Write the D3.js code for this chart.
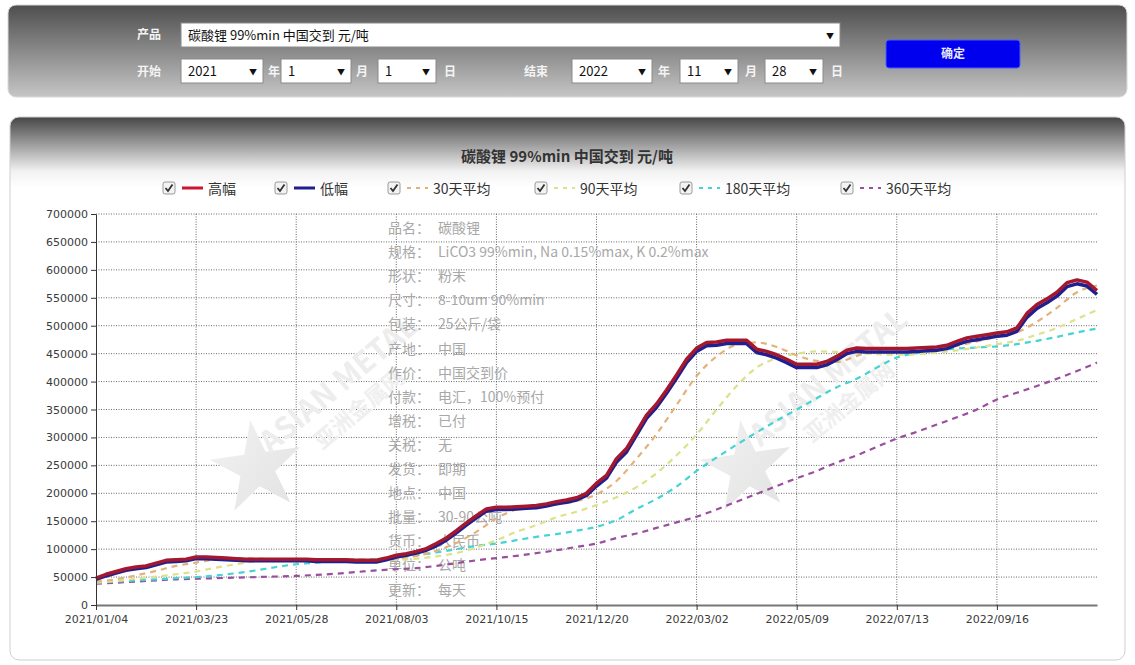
<!DOCTYPE html>
<html>
<head>
<meta charset="utf-8">
<script src="https://cdn.jsdelivr.net/npm/d3@7"></script>
<style>
    body { margin: 0; background: #fff; }
    text { font-family: "Noto Sans CJK SC", "DejaVu Sans", sans-serif; }
    .axis text { font-family: "DejaVu Sans", sans-serif; font-size: 11px; fill: #3a3a3a; }
</style>
</head>
<body>
<div id="container-svg"></div>
<script>
// Form values
const productName = "碳酸锂 99%min 中国交到 元/吨"
const startDate = ["2021", "1", "1"]
const endDate = ["2022", "11", "28"]

// Legend
const seriesNames = ["高幅", "低幅", "30天平均", "90天平均", "180天平均", "360天平均"]
const seriesColors = ["#cc1530", "#1f1f8f", "#e2b27a", "#dde18a", "#45d3d3", "#9a4e9e"]

// Axis ticks (x is trading-day sample index, one sample ~ 1/10 of a tick interval)
const xTickIndex = [0, 10, 20, 30, 40, 50, 60, 70, 80, 90]
const xTickLabels = ["2021/01/04", "2021/03/23", "2021/05/28", "2021/08/03", "2021/10/15",
    "2021/12/20", "2022/03/02", "2022/05/09", "2022/07/13", "2022/09/16"]
const yTickValues = [0, 50000, 100000, 150000, 200000, 250000, 300000, 350000,
    400000, 450000, 500000, 550000, 600000, 650000, 700000]

// Prices, 元/吨
const highPrice = [
    48000, 55000, 60000, 65000, 68000, 70000, 75000, 80000, 81000, 82000,
    86000, 86000, 85000, 84000, 83000, 82000, 82000, 82000, 82000, 82000,
    82000, 82000, 81000, 81000, 81000, 81000, 80000, 80000, 80000, 84000,
    89000, 92000, 96000, 101000, 110000, 120000, 133000, 147000, 160000, 172000,
    175000, 175000, 176000, 177000, 178000, 181000, 185000, 188000, 192000, 200000,
    218000, 232000, 262000, 280000, 310000, 340000, 360000, 385000, 412000, 440000,
    460000, 470000, 471000, 474000, 474000, 474000, 458000, 454000, 448000, 440000,
    431000, 431000, 431000, 436000, 445000, 456000, 460000, 459000, 459000, 459000,
    459000, 459000, 460000, 461000, 462000, 465000, 472000, 478000, 481000, 484000,
    487000, 489000, 496000, 522000, 538000, 548000, 560000, 577000, 582000, 578000,
    563000]
const lowPrice = [
    46000, 52000, 57000, 62000, 65000, 67000, 72000, 77000, 78000, 79000,
    83000, 83000, 82000, 81000, 80000, 79000, 79000, 79000, 79000, 79000,
    79000, 79000, 78000, 78000, 78000, 78000, 77000, 77000, 77000, 81000,
    86000, 89000, 93000, 98000, 106000, 116000, 129000, 143000, 156000, 168000,
    171000, 171000, 172000, 173000, 174000, 177000, 181000, 184000, 188000, 196000,
    213000, 227000, 256000, 274000, 304000, 334000, 354000, 379000, 406000, 434000,
    454000, 464000, 465000, 468000, 468000, 468000, 452000, 448000, 442000, 434000,
    425000, 425000, 425000, 430000, 439000, 450000, 454000, 453000, 453000, 453000,
    453000, 453000, 454000, 455000, 456000, 459000, 466000, 472000, 475000, 478000,
    481000, 483000, 490000, 515000, 531000, 541000, 553000, 570000, 575000, 571000,
    556000]

// Moving averages, read every second sample
const MA_STEP = 2
const avg30 = [
    42000, 46000, 53000, 61000, 70000, 76000, 82000, 84000, 83000, 82000,
    82000, 81000, 81000, 80000, 80000, 83000, 88000, 97000, 111000, 131000,
    155000, 171000, 176000, 180000, 186000, 198000, 222000, 262000, 306000, 358000,
    410000, 445000, 466000, 470000, 462000, 447000, 437000, 435000, 446000, 456000,
    459000, 459000, 460000, 464000, 472000, 480000, 488000, 507000, 532000, 560000,
    572000]
const avg90 = [
    40000, 43000, 47000, 51000, 55000, 60000, 67000, 73000, 78000, 81000,
    82000, 82000, 82000, 81000, 81000, 81000, 83000, 87000, 93000, 103000,
    116000, 131000, 143000, 157000, 167000, 179000, 193000, 211000, 236000, 268000,
    305000, 350000, 392000, 425000, 442000, 450000, 454000, 453000, 451000, 449000,
    448000, 449000, 452000, 456000, 461000, 467000, 473000, 484000, 496000, 512000,
    528000]
const avg180 = [
    40000, 42000, 44000, 46000, 48000, 50000, 53000, 57000, 62000, 68000,
    73000, 76000, 79000, 81000, 82000, 85000, 89000, 94000, 100000, 106000,
    110000, 116000, 122000, 127000, 133000, 140000, 152000, 172000, 190000, 212000,
    240000, 264000, 287000, 309000, 330000, 350000, 370000, 390000, 405000, 425000,
    443000, 451000, 456000, 459000, 461000, 463000, 467000, 473000, 480000, 488000,
    495000]
const avg360 = [
    38000, 40000, 42000, 44000, 46000, 47000, 48000, 49000, 50000, 51000,
    52000, 54000, 56000, 59000, 62000, 64000, 66000, 70000, 75000, 80000,
    84000, 88000, 93000, 98000, 104000, 110000, 120000, 128000, 138000, 148000,
    158000, 171000, 185000, 199000, 213000, 227000, 240000, 255000, 268000, 283000,
    298000, 310000, 323000, 336000, 350000, 368000, 380000, 392000, 405000, 419000,
    434000]

// Product info shown behind the lines
const infoLabels = ["品名：", "规格：", "形状：", "尺寸：", "包装：", "产地：", "作价：", "付款：",
    "增税：", "关税：", "发货：", "地点：", "批量：", "货币：", "单位：", "更新："]
const infoValues = ["碳酸锂", "LiCO3 99%min, Na 0.15%max, K 0.2%max", "粉末", "8-10um 90%min",
    "25公斤/袋", "中国", "中国交到价", "电汇，100%预付", "已付", "无", "即期", "中国",
    "30-90公吨", "人民币", "公吨", "每天"]

// SVG initialization
const W = 1135, H = 665
const margin = { top: 214, right: 38, bottom: 60, left: 96 }

const svg = d3.select("div#container-svg")
    .append("svg")
    .attr("width", W)
    .attr("height", H)

const defs = svg.append("defs")
const topGrad = defs.append("linearGradient").attr("id", "topGrad")
    .attr("x1", 0).attr("y1", 0).attr("x2", 0).attr("y2", 1)
topGrad.append("stop").attr("offset", "0%").attr("stop-color", "#4e4e4e")
topGrad.append("stop").attr("offset", "100%").attr("stop-color", "#c6c6c6")

const headGrad = defs.append("linearGradient").attr("id", "headGrad")
    .attr("x1", 0).attr("y1", 0).attr("x2", 0).attr("y2", 1)
headGrad.append("stop").attr("offset", "0%").attr("stop-color", "#464646")
headGrad.append("stop").attr("offset", "10%").attr("stop-color", "#f2f2f2")
headGrad.append("stop").attr("offset", "13%").attr("stop-color", "#ffffff")
headGrad.append("stop").attr("offset", "100%").attr("stop-color", "#ffffff")

const starGrad = defs.append("linearGradient").attr("id", "starGrad")
    .attr("x1", 0).attr("y1", 0).attr("x2", 1).attr("y2", 1)
starGrad.append("stop").attr("offset", "0%").attr("stop-color", "#f2f2f2")
starGrad.append("stop").attr("offset", "100%").attr("stop-color", "#e2e2e2")

// ---- Top form panel ----
const form = svg.append("g").attr("id", "formLayer")
form.append("rect")
    .attr("x", 8).attr("y", 5).attr("width", 1119).attr("height", 92).attr("rx", 8)
    .attr("fill", "url(#topGrad)")
    .attr("stroke", "#d8d8d8")

const formLabel = function(x, y, t) {
    form.append("text").attr("x", x).attr("y", y).text(t)
        .attr("font-size", 12).attr("fill", "#f4f4f4").attr("font-weight", "bold")
}
const drawSelect = function(x, y, w, t) {
    form.append("rect").attr("x", x).attr("y", y).attr("width", w).attr("height", 24)
        .attr("fill", "#fff").attr("stroke", "#8a8a8a")
    form.append("text").attr("x", x + 7).attr("y", y + 17).text(t)
        .attr("font-size", 13).attr("fill", "#111")
    form.append("text").attr("x", x + w - 10).attr("y", y + 16).text("▼")
        .attr("text-anchor", "middle").attr("font-size", 8).attr("fill", "#111")
}

formLabel(137, 39, "产品")
drawSelect(181, 23, 659, productName)

formLabel(137, 76, "开始")
drawSelect(181, 59, 82, startDate[0])
formLabel(268, 76, "年")
drawSelect(281, 59, 70, startDate[1])
formLabel(356, 76, "月")
drawSelect(378, 59, 58, startDate[2])
formLabel(444, 76, "日")

formLabel(524, 76, "结束")
drawSelect(572, 59, 80, endDate[0])
formLabel(658, 76, "年")
drawSelect(680, 59, 58, endDate[1])
formLabel(745, 76, "月")
drawSelect(765, 59, 58, endDate[2])
formLabel(831, 76, "日")

form.append("rect").attr("x", 886).attr("y", 40).attr("width", 134).attr("height", 28).attr("rx", 3)
    .attr("fill", "#0000ee").attr("stroke", "#4a5cff")
form.append("text").attr("x", 953).attr("y", 58).text("确定")
    .attr("text-anchor", "middle").attr("font-size", 12).attr("font-weight", "bold").attr("fill", "#e8e8ff")

// ---- Chart panel ----
const panel = svg.append("g").attr("id", "panelLayer")
panel.append("rect")
    .attr("x", 10).attr("y", 117).attr("width", 1115).attr("height", 543).attr("rx", 9)
    .attr("fill", "url(#headGrad)")
    .attr("stroke", "#cfcfcf")

panel.append("text")
    .attr("x", 567).attr("y", 162)
    .attr("text-anchor", "middle")
    .attr("font-size", 15).attr("font-weight", "bold").attr("fill", "#333")
    .text(productName)

// Legend
const legendX = [163, 275, 388, 535, 680, 841]
const legend = panel.append("g").attr("id", "legendLayer")
seriesNames.forEach(function(name, i) {
    const g = legend.append("g").attr("transform", "translate(" + legendX[i] + ",182)")
    g.append("rect").attr("width", 12).attr("height", 12).attr("rx", 2)
        .attr("fill", "#f3f3f3").attr("stroke", "#9a9a9a")
    g.append("path").attr("d", "M2.5,6 L5,9 L9.5,2.5")
        .attr("fill", "none").attr("stroke", "#333").attr("stroke-width", 1.8)
    g.append("line").attr("x1", 19).attr("x2", 40).attr("y1", 6).attr("y2", 6)
        .attr("stroke", seriesColors[i])
        .attr("stroke-width", i < 2 ? 3 : 2)
        .attr("stroke-dasharray", i < 2 ? null : "4,5")
    g.append("text").attr("x", 45).attr("y", 11.5).text(name)
        .attr("font-size", 14).attr("fill", "#333")
})

// ---- Plot ----
const x = d3.scaleLinear()
    .domain([0, highPrice.length - 1])
    .range([margin.left, W - margin.right])
const y = d3.scaleLinear()
    .domain([0, 700000])
    .range([H - margin.bottom, margin.top])

const gridGroup = svg.append("g").attr("id", "gridLayer")
const markGroup = svg.append("g").attr("id", "watermarkLayer")
const lineGroup = svg.append("g").attr("id", "lineLayer")
const axisGroup = svg.append("g").attr("id", "axisLayer")

gridGroup.selectAll("line.hgrid")
    .data(yTickValues.filter(d => d > 0))
    .join("line")
    .attr("class", "hgrid")
    .attr("x1", x.range()[0]).attr("x2", x.range()[1])
    .attr("y1", d => y(d)).attr("y2", d => y(d))
    .attr("stroke", "#6a6a6a").attr("stroke-dasharray", "1,1.5")

gridGroup.selectAll("line.vgrid")
    .data(xTickIndex.filter(d => d > 0))
    .join("line")
    .attr("class", "vgrid")
    .attr("x1", d => x(d)).attr("x2", d => x(d))
    .attr("y1", y.range()[1]).attr("y2", y.range()[0])
    .attr("stroke", "#6a6a6a").attr("stroke-dasharray", "1,1.5")

// Watermarks: star logo + ASIAN METAL
const marks = [[257, 468, 345, 392], [747, 468, 835, 385]]
marks.forEach(function(m) {
    markGroup.append("path")
        .attr("d", d3.symbol(d3.symbolStar, 2600)())
        .attr("transform", "translate(" + m[0] + "," + m[1] + ") rotate(-8)")
        .attr("fill", "url(#starGrad)")
    const t = markGroup.append("g").attr("transform", "translate(" + m[2] + "," + m[3] + ") rotate(-40)")
    t.append("text").text("ASIAN METAL")
        .attr("text-anchor", "middle").attr("font-size", 30).attr("font-weight", "bold")
        .attr("fill", "#ededed")
    t.append("text").text("亚洲金属网").attr("y", 30)
        .attr("text-anchor", "middle").attr("font-size", 22).attr("font-weight", "bold")
        .attr("fill", "#efefef")
})

markGroup.selectAll("text.info-label")
    .data(infoLabels)
    .join("text")
    .attr("class", "info-label")
    .attr("x", 388)
    .attr("y", (d, i) => 233 + i * 24.1)
    .attr("font-size", 14).attr("fill", "#a8a8a8")
    .text(d => d)
markGroup.selectAll("text.info-value")
    .data(infoValues)
    .join("text")
    .attr("class", "info-value")
    .attr("x", 438)
    .attr("y", (d, i) => 233 + i * 24.1)
    .attr("font-size", 14).attr("fill", "#a8a8a8")
    .text(d => d)

// Moving averages
const maLine = d3.line().x((d, i) => x(i * MA_STEP)).y(d => y(d)).curve(d3.curveMonotoneX)
const maSeries = [avg360, avg180, avg90, avg30]
const maColors = [seriesColors[5], seriesColors[4], seriesColors[3], seriesColors[2]]
lineGroup.selectAll("path.ma")
    .data(maSeries)
    .join("path")
    .attr("class", "ma")
    .attr("d", maLine)
    .attr("fill", "none")
    .attr("stroke", (d, i) => maColors[i])
    .attr("stroke-width", 2.2)
    .attr("stroke-dasharray", "6,5")

// Price lines
const priceLine = d3.line().x((d, i) => x(i)).y(d => y(d))
lineGroup.append("path")
    .attr("class", "low")
    .attr("d", priceLine(lowPrice))
    .attr("fill", "none").attr("stroke", seriesColors[1]).attr("stroke-width", 3.5)
    .attr("stroke-linejoin", "round")
lineGroup.append("path")
    .attr("class", "high")
    .attr("d", priceLine(highPrice))
    .attr("fill", "none").attr("stroke", "#a3172f").attr("stroke-width", 3.5)
    .attr("stroke-linejoin", "round")

// Axes
axisGroup.append("g")
    .attr("class", "axis")
    .attr("transform", "translate(" + margin.left + ",0)")
    .call(d3.axisLeft(y).tickValues(yTickValues).tickFormat(d3.format("d")).tickSize(5).tickSizeOuter(0))
    .call(g => g.selectAll("line, path").attr("stroke", "#333"))

axisGroup.append("g")
    .attr("class", "axis")
    .attr("transform", "translate(0," + (H - margin.bottom) + ")")
    .call(d3.axisBottom(x).tickValues(xTickIndex).tickFormat((d, i) => xTickLabels[i]).tickSize(5).tickSizeOuter(0))
    .call(g => g.select("path").attr("stroke", "#777").attr("stroke-width", 2))
    .call(g => g.selectAll("line").attr("stroke", "#333"))
    .call(g => g.selectAll("text").attr("dy", "0.9em"))
</script>
</body>
</html>
